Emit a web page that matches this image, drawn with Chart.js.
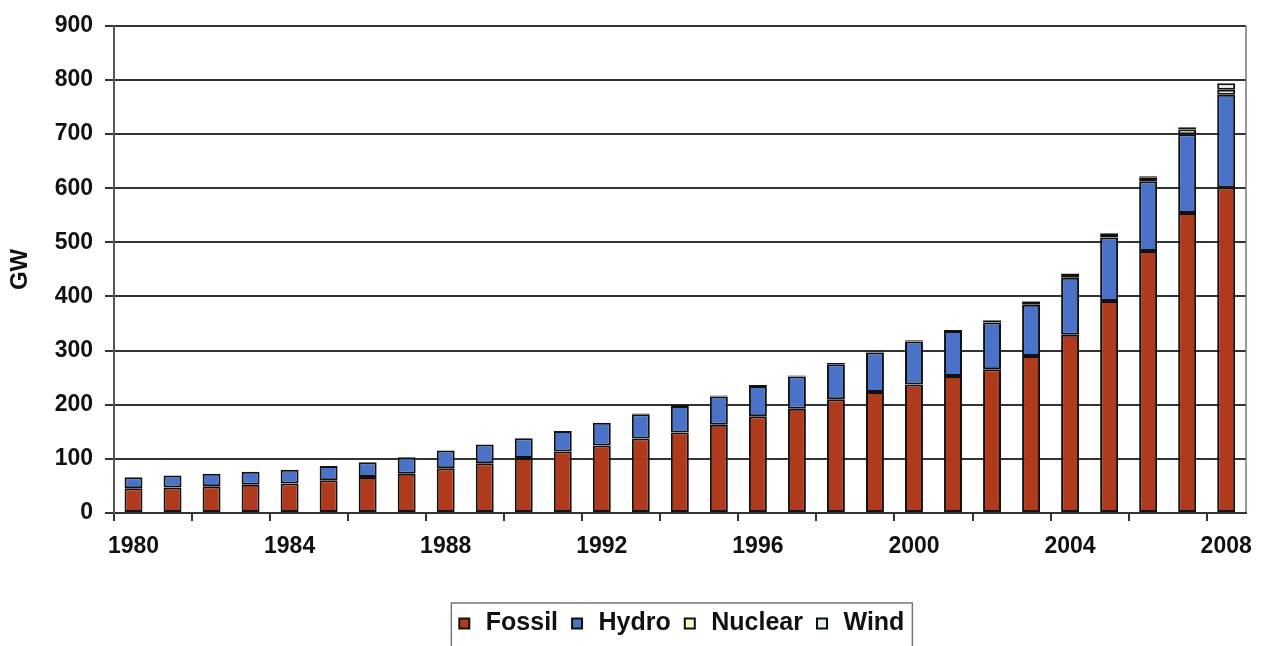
<!DOCTYPE html>
<html>
<head>
<meta charset="utf-8">
<script src="https://cdn.jsdelivr.net/npm/chart.js@4.4.1/dist/chart.umd.min.js"></script>
<style>
  html, body { margin: 0; padding: 0; background: #fff; }
  #wrap { width: 1264px; height: 646px; position: relative; }
</style>
</head>
<body>
<div id="wrap"><canvas id="chart"></canvas></div>
<script>
// years on the x axis
const years = ['1980','1981','1982','1983','1984','1985','1986','1987','1988','1989',
  '1990','1991','1992','1993','1994','1995','1996','1997','1998','1999',
  '2000','2001','2002','2003','2004','2005','2006','2007','2008'];

// installed capacity, GW; null = no capacity yet
const fossil = [45.6, 47.3, 49.4, 52.0, 54.5, 60.6, 66.3, 72.7, 82.8, 92.1,
  101.8, 113.6, 124.8, 137.8, 148.7, 162.9, 178.9, 192.4, 209.9, 223.4,
  237.5, 253.0, 265.6, 289.8, 329.5, 391.4, 484.1, 554.4, 601.3];
const hydro = [20.3, 21.9, 23.0, 24.2, 25.6, 26.4, 27.5, 30.2, 32.7, 34.6,
  36.1, 37.9, 41.7, 44.6, 49.1, 52.2, 55.6, 59.7, 65.1, 73.0,
  79.4, 83.0, 86.1, 94.9, 105.2, 117.4, 128.6, 145.3, 171.5];
const nuclear = [null, null, null, null, null, null, null, null, null, null,
  null, null, null, 1.2, 2.1, 2.1, 2.1, 2.1, 2.1, 2.1,
  2.1, 2.1, 4.5, 6.2, 6.8, 6.8, 6.8, 8.9, 9.1];
const wind = [null, null, null, null, null, null, null, null, null, null,
  null, null, null, null, null, null, null, null, null, null,
  null, null, null, 0.6, 0.8, 1.3, 2.6, 4.2, 12.2];

const yTicks = [0, 100, 200, 300, 400, 500, 600, 700, 800, 900];

const FONT = '"Liberation Sans", Arial, sans-serif';

function ds(label, data, color) {
  return {
    label: label,
    data: data,
    backgroundColor: color,
    borderColor: '#111',
    borderWidth: 2,
    borderSkipped: false,
    categoryPercentage: 1,
    barPercentage: 0.46
  };
}

// thin frame round the legend, like the original
const legendFrame = {
  id: 'legendFrame',
  afterDraw(chart) {
    const lg = chart.legend;
    if (!lg || !lg.legendHitBoxes.length) return;
    const boxes = lg.legendHitBoxes;
    const first = boxes[0], last = boxes[boxes.length - 1];
    const ctx = chart.ctx;
    ctx.save();
    ctx.strokeStyle = '#777';
    ctx.lineWidth = 1.5;
    ctx.strokeRect(first.left - 4, lg.top + 2, last.left + last.width - first.left + 12, 60);
    ctx.restore();
  }
};

new Chart(document.getElementById('chart'), {
  type: 'bar',
  data: {
    labels: years,
    datasets: [
      ds('Fossil', fossil, '#b03a1c'),
      ds('Hydro', hydro, '#4a72c8'),
      ds('Nuclear', nuclear, '#ffffcc'),
      ds('Wind', wind, '#e4f1ec')
    ]
  },
  options: {
    responsive: true,
    maintainAspectRatio: false,
    animation: false,
    layout: { padding: { top: 23, right: 14, left: 0, bottom: 0 } },
    plugins: {
      tooltip: { enabled: false },
      legend: {
        position: 'bottom',
        fullSize: false,
        labels: {
          color: '#111',
          font: { family: FONT, size: 25, weight: 'bold' },
          usePointStyle: true,
          pointStyle: 'rect',
          boxWidth: 18,
          boxHeight: 10,
          padding: 10
        }
      }
    },
    scales: {
      x: {
        stacked: true,
        offset: true,
        afterFit: s => { s.height = 88; },
        grid: {
          offset: true,
          drawOnChartArea: true,
          color: ctx => (ctx.index === undefined ? '#999' : 'rgba(0,0,0,0)'),
          lineWidth: 2,
          tickLength: 8,
          tickColor: ctx => (ctx.index !== undefined && ctx.index % 2 === 0 ? '#333' : 'rgba(0,0,0,0)'),
          tickWidth: 2
        },
        border: { color: '#333', width: 2 },
        ticks: {
          autoSkip: false,
          maxRotation: 0,
          padding: 12,
          color: '#111',
          font: { family: FONT, size: 23, weight: 'bold' },
          callback: (v, i) => (i % 4 === 0 ? years[i] : '')
        }
      },
      y: {
        stacked: true,
        min: 0,
        max: 900,
        afterFit: s => { s.width = 114; },
        afterBuildTicks: s => { s.ticks = yTicks.map(v => ({ value: v })); },
        grid: { color: '#333', lineWidth: 2, tickLength: 9, tickColor: '#333' },
        border: { color: '#555', width: 2 },
        ticks: {
          padding: 12,
          color: '#111',
          font: { family: FONT, size: 23, weight: 'bold' }
        },
        title: {
          display: true,
          text: 'GW',
          color: '#111',
          font: { family: FONT, size: 24, weight: 'bold' },
          padding: { top: 6, bottom: 0 }
        }
      }
    }
  },
  plugins: [legendFrame]
});
</script>
</body>
</html>
